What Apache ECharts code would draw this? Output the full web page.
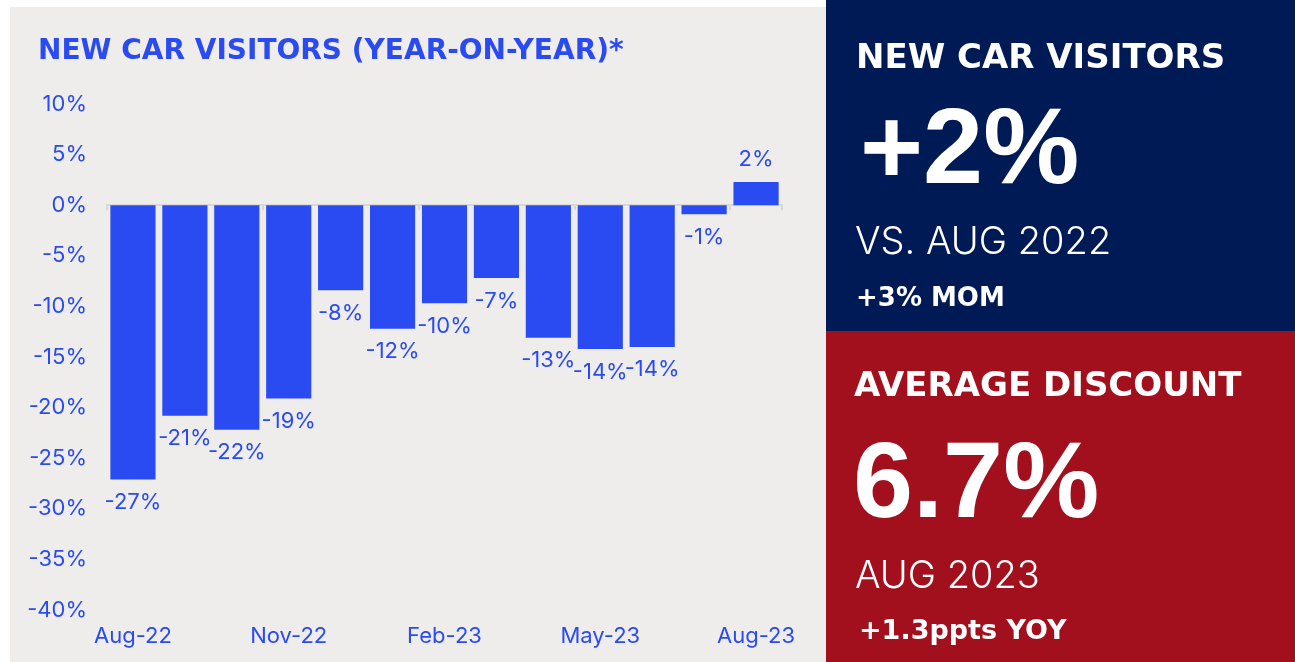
<!DOCTYPE html>
<html>
<head>
<meta charset="utf-8">
<script src="https://cdn.jsdelivr.net/npm/echarts@6/dist/echarts.min.js"></script>
<style>
  html, body { margin: 0; padding: 0; background: #ffffff; }
  #main { width: 1295px; height: 662px; }
</style>
</head>
<body>
<div id="main"></div>
<script>
'use strict';
// 月份
var months = ['Aug-22', 'Sep-22', 'Oct-22', 'Nov-22', 'Dec-22', 'Jan-23', 'Feb-23',
	'Mar-23', 'Apr-23', 'May-23', 'Jun-23', 'Jul-23', 'Aug-23'];
// 同比变化 (%)
var yoyValues = [-27.1, -20.8, -22.2, -19.1, -8.4, -12.2, -9.7, -7.2, -13.1, -14.2, -14.0, -0.9, 2.3];
// 右侧面板文字
var visitorsHead = 'NEW CAR VISITORS';
var visitorsValue = '+2%';
var visitorsSub = 'VS. AUG 2022';
var visitorsMom = '+3% MOM';
var discountHead = 'AVERAGE DISCOUNT';
var discountValue = '6.7%';
var discountSub = 'AUG 2023';
var discountYoy = '+1.3ppts YOY';

var blue = '#2a4bf2';
var headFont = '"DejaVu Sans", sans-serif';
var bodyFont = 'Inter, "Noto Sans", sans-serif';
var bigFont = '"Liberation Sans", Arial, sans-serif';

var barData = yoyValues.map(function (v) {
	return {
		value: v,
		label: { position: v < 0 ? 'bottom' : 'top' }
	};
});

var chart = echarts.init(document.getElementById('main'), null, { renderer: 'canvas' });

function panelText(x, y, text, size, weight, family) {
	return {
		type: 'text',
		x: x,
		y: y,
		style: {
			text: text,
			fill: '#ffffff',
			font: weight + ' ' + size + 'px ' + family,
			textVerticalAlign: 'middle',
			textAlign: 'left'
		}
	};
}

var option = {
	animation: false,
	backgroundColor: '#ffffff',
	graphic: [
		{ type: 'rect', z: -10, shape: { x: 10, y: 7, width: 816, height: 655 }, style: { fill: '#efedeb' } },
		{ type: 'rect', z: -10, shape: { x: 826, y: 0, width: 469, height: 331 }, style: { fill: '#001a55' } },
		{ type: 'rect', z: -10, shape: { x: 826, y: 331, width: 469, height: 331 }, style: { fill: '#a20f1d' } },
		{
			type: 'text', x: 38, y: 52,
			style: {
				text: 'NEW CAR VISITORS (YEAR-ON-YEAR)*',
				fill: blue,
				font: 'bold 28px ' + headFont,
				textVerticalAlign: 'middle'
			}
		},
		panelText(856, 59, visitorsHead, 34, 'bold', headFont),
		panelText(860, 153, visitorsValue, 108, 'bold', bigFont),
		panelText(855, 243, visitorsSub, 38, '300', bodyFont),
		panelText(856, 299, visitorsMom, 26, 'bold', headFont),
		panelText(854, 387, discountHead, 34, 'bold', headFont),
		panelText(853, 487, discountValue, 108, 'bold', bigFont),
		panelText(855, 577, discountSub, 38, '300', bodyFont),
		panelText(859, 632, discountYoy, 27, 'bold', headFont)
	],
	grid: {
		left: 107,
		right: 513,
		top: 104,
		bottom: 52,
		containLabel: false
	},
	xAxis: [
		{
			type: 'category',
			data: months,
			axisLine: { onZero: true, lineStyle: { color: '#d8d8d8', width: 2 } },
			axisTick: { show: true, interval: 2, length: 5, lineStyle: { color: '#d8d8d8', width: 2 } },
			axisLabel: { show: false },
			splitLine: { show: false }
		},
		{
			type: 'category',
			position: 'bottom',
			data: months,
			axisLine: { show: false, onZero: false },
			axisTick: { show: false },
			axisLabel: {
				interval: 2,
				margin: 15,
				color: blue,
				fontSize: 22,
				fontFamily: bodyFont
			},
			splitLine: { show: false }
		}
	],
	yAxis: {
		type: 'value',
		min: -40,
		max: 10,
		interval: 5,
		axisLine: { show: false },
		axisTick: { show: false },
		splitLine: { show: false },
		axisLabel: {
			formatter: '{value}%',
			margin: 20,
			color: blue,
			fontSize: 22,
			fontFamily: bodyFont
		}
	},
	series: [
		{
			name: 'New car visitors YoY',
			type: 'bar',
			xAxisIndex: 0,
			barCategoryGap: '13%',
			itemStyle: { color: blue },
			label: {
				show: true,
				distance: 12,
				color: blue,
				fontSize: 22,
				fontFamily: bodyFont,
				formatter: function (p) {
					return Math.round(p.value) + '%';
				}
			},
			data: barData
		}
	]
};

chart.setOption(option);
</script>
</body>
</html>
